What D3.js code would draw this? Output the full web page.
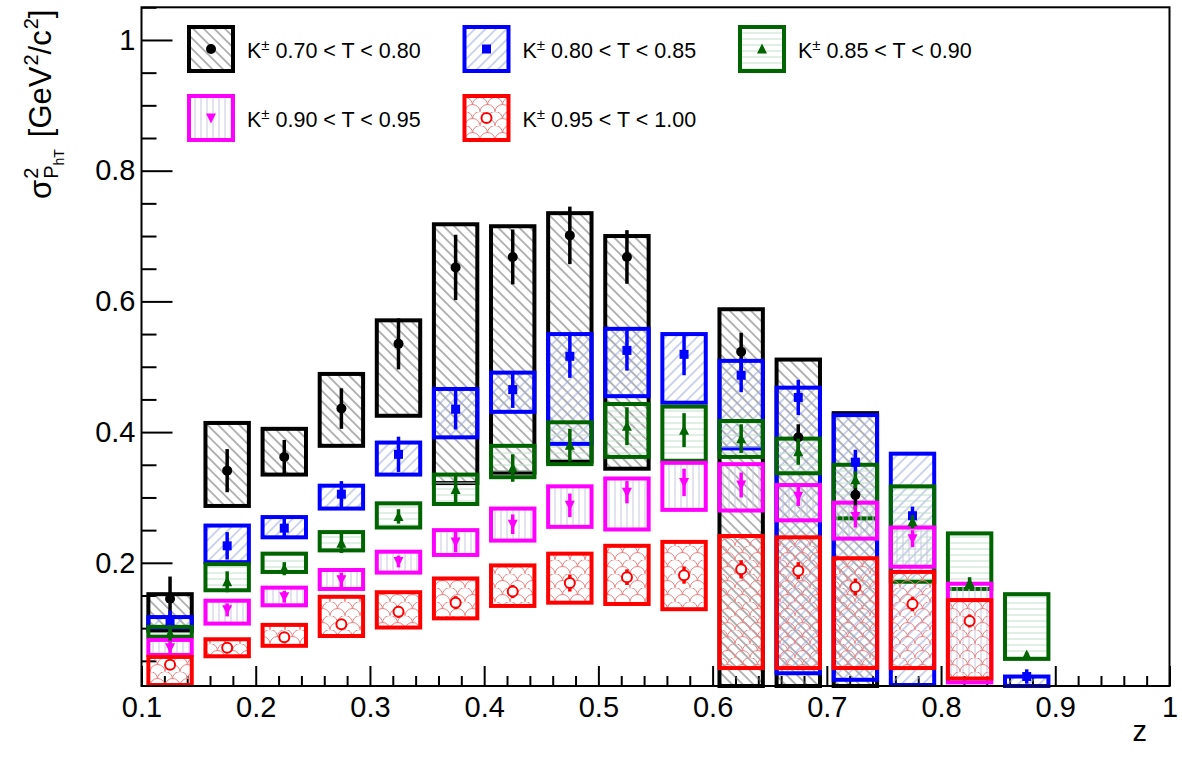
<!DOCTYPE html>
<html>
<head>
<meta charset="utf-8">
<script src="https://cdn.jsdelivr.net/npm/d3@7"></script>
<style>
body { margin: 0; background: #fff; }
svg { display: block; font-family: "Liberation Sans", Arial, Helvetica, sans-serif; }
</style>
</head>
<body>
<svg id="chart" width="1182" height="763"></svg>
<script>
// z bin centres
var zBins = [0.125, 0.175, 0.225, 0.275, 0.325, 0.375, 0.425, 0.475, 0.525, 0.575, 0.625, 0.675, 0.725, 0.775, 0.825, 0.875];

// K+- 0.70 < T < 0.80
var valT70  = [0.145, 0.341, 0.362, 0.436, 0.535, 0.652, 0.668, 0.701, 0.668, null, 0.523, 0.392, 0.304, null, null, null];
var statT70 = [0.034, 0.033, 0.026, 0.031, 0.039, 0.050, 0.042, 0.044, 0.041, null, 0.029, 0.020, 0.021, null, null, null];
var loT70   = [0.096, 0.287, 0.335, 0.379, 0.425, 0.322, 0.338, 0.355, 0.344, null, 0.0, 0.0, 0.0, null, null, null];
var hiT70   = [0.152, 0.414, 0.405, 0.489, 0.571, 0.718, 0.715, 0.735, 0.700, null, 0.588, 0.511, 0.429, null, null, null];

// K+- 0.80 < T < 0.85
var valT80  = [0.111, 0.226, 0.253, 0.305, 0.366, 0.435, 0.465, 0.516, 0.525, 0.519, 0.487, 0.453, 0.354, 0.272, null, 0.026];
var statT80 = [0.016, 0.021, 0.016, 0.020, 0.027, 0.031, 0.028, 0.033, 0.031, 0.032, 0.026, 0.027, 0.019, 0.014, null, 0.011];
var loT80   = [0.101, 0.201, 0.239, 0.283, 0.335, 0.392, 0.431, 0.382, 0.455, 0.445, 0.375, 0.031, 0.021, 0.013, null, 0.008];
var hiT80   = [0.117, 0.257, 0.270, 0.318, 0.384, 0.466, 0.491, 0.550, 0.558, 0.550, 0.509, 0.468, 0.426, 0.367, null, 0.026];

// K+- 0.85 < T < 0.90
var valT85  = [0.092, 0.171, 0.191, 0.230, 0.271, 0.312, 0.345, 0.380, 0.409, 0.403, 0.390, 0.370, 0.327, 0.263, 0.169, 0.059];
var statT85 = [0.013, 0.016, 0.010, 0.015, 0.011, 0.024, 0.021, 0.025, 0.029, 0.026, 0.022, 0.020, 0.013, 0.010, 0.009, 0.004];
var loT85   = [0.087, 0.158, 0.186, 0.219, 0.254, 0.290, 0.331, 0.351, 0.362, 0.356, 0.362, 0.337, 0.268, 0.171, 0.160, 0.053];
var hiT85   = [0.102, 0.198, 0.214, 0.247, 0.291, 0.335, 0.379, 0.415, 0.443, 0.439, 0.417, 0.390, 0.350, 0.317, 0.245, 0.152];

// K+- 0.90 < T < 0.95
var valT90  = [0.070, 0.128, 0.148, 0.174, 0.202, 0.232, 0.259, 0.288, 0.308, 0.323, 0.319, 0.302, 0.271, 0.237, null, null];
var statT90 = [0.011, 0.010, 0.009, 0.011, 0.009, 0.016, 0.015, 0.018, 0.017, 0.021, 0.019, 0.015, 0.017, 0.013, null, null];
var loT90   = [0.059, 0.107, 0.135, 0.160, 0.185, 0.212, 0.234, 0.255, 0.251, 0.281, 0.280, 0.265, 0.237, 0.194, 0.017, null];
var hiT90   = [0.082, 0.142, 0.162, 0.189, 0.217, 0.250, 0.283, 0.317, 0.329, 0.353, 0.351, 0.319, 0.292, 0.254, 0.168, null];

// K+- 0.95 < T < 1.00
var valT95  = [0.044, 0.070, 0.086, 0.106, 0.125, 0.139, 0.156, 0.169, 0.178, 0.181, 0.190, 0.188, 0.163, 0.137, 0.111, null];
var statT95 = [0.008, 0.006, 0.008, 0.008, 0.009, 0.010, 0.010, 0.013, 0.012, 0.013, 0.014, 0.013, 0.013, 0.011, 0.010, null];
var loT95   = [0.013, 0.057, 0.073, 0.088, 0.101, 0.115, 0.134, 0.139, 0.137, 0.129, 0.039, 0.039, 0.039, 0.039, 0.023, null];
var hiT95   = [0.056, 0.083, 0.105, 0.148, 0.155, 0.176, 0.196, 0.214, 0.226, 0.232, 0.241, 0.239, 0.207, 0.186, 0.143, null];

var legendRanges = ['0.70 < T < 0.80', '0.80 < T < 0.85', '0.85 < T < 0.90', '0.90 < T < 0.95', '0.95 < T < 1.00'];
var xTicks = [0.1, 0.2, 0.3, 0.4, 0.5, 0.6, 0.7, 0.8, 0.9, 1];
var yTicks = [0.2, 0.4, 0.6, 0.8, 1];
var boxHalfWidth = 0.019;

var series = [
	{ label: legendRanges[0], val: valT70, stat: statT70, lo: loT70, hi: hiT70, color: '#000000', hatch: 'hatch-black', marker: 'circle' },
	{ label: legendRanges[1], val: valT80, stat: statT80, lo: loT80, hi: hiT80, color: '#0000ff', hatch: 'hatch-blue', marker: 'square' },
	{ label: legendRanges[2], val: valT85, stat: statT85, lo: loT85, hi: hiT85, color: '#006400', hatch: 'hatch-green', marker: 'triUp' },
	{ label: legendRanges[3], val: valT90, stat: statT90, lo: loT90, hi: hiT90, color: '#ff00ff', hatch: 'hatch-magenta', marker: 'triDown' },
	{ label: legendRanges[4], val: valT95, stat: statT95, lo: loT95, hi: hiT95, color: '#ff0000', hatch: 'hatch-red', marker: 'openCircle' }
];

var frame = { left: 141.5, right: 1169.5, top: 7.3, bottom: 686 };
var svg = d3.select('#chart');
var x = d3.scaleLinear().domain([0.1, 1]).range([frame.left, frame.right]);
var y = d3.scaleLinear().domain([0.0115, 1.05]).range([frame.bottom, frame.top]);
var fmt = function(d) { return d === 1 ? '1' : d.toFixed(1); };

// fill patterns (userSpace so overlapping boxes cross-hatch)
var defs = svg.append('defs');
function addLinePattern(id, color, spacing, angle) {
	var p = defs.append('pattern')
		.attr('id', id)
		.attr('patternUnits', 'userSpaceOnUse')
		.attr('width', spacing)
		.attr('height', spacing)
		.attr('patternTransform', 'rotate(' + angle + ')');
	p.append('line')
		.attr('x1', spacing / 2).attr('y1', -1)
		.attr('x2', spacing / 2).attr('y2', spacing + 1)
		.attr('stroke', color)
		.attr('stroke-width', 1);
}
addLinePattern('hatch-black', '#6a6a6a', 7.5, -45);
addLinePattern('hatch-blue', '#9aa8e0', 7.5, 45);
addLinePattern('hatch-green', '#c0e0c8', 6, 90);
addLinePattern('hatch-magenta', '#c8c8e0', 6, 0);

var scales = defs.append('pattern')
	.attr('id', 'hatch-red')
	.attr('patternUnits', 'userSpaceOnUse')
	.attr('width', 15)
	.attr('height', 14);
scales.append('path')
	.attr('d', 'M0,14 A7.5,7.5 0 0,1 15,14 M-7.5,7 A7.5,7.5 0 0,1 7.5,7 M7.5,7 A7.5,7.5 0 0,1 22.5,7')
	.attr('fill', 'none')
	.attr('stroke', '#ec8080')
	.attr('stroke-width', 1);

// axes
var yMinor = d3.range(1, 22).filter(function(i) { return i % 4 !== 0; }).map(function(i) { return +(i * 0.05).toFixed(2); });
var xMinor = d3.range(5, 51).filter(function(i) { return i % 5 !== 0; }).map(function(i) { return +(i * 0.02).toFixed(2); });

function styleAxis(g) {
	g.select('.domain').remove();
	g.selectAll('.tick line').attr('stroke', '#000').attr('stroke-width', 2);
	g.selectAll('.tick text').attr('font-size', 29).attr('fill', '#000');
	g.attr('font-family', null).attr('font-size', null);
}

svg.append('g')
	.attr('transform', 'translate(' + frame.left + ',0)')
	.call(d3.axisLeft(y).tickValues(yMinor).tickSizeInner(-15).tickSizeOuter(0).tickFormat(''))
	.call(styleAxis);
svg.append('g')
	.attr('transform', 'translate(' + frame.left + ',0)')
	.call(d3.axisLeft(y).tickValues(yTicks).tickSizeInner(-31).tickSizeOuter(0).tickPadding(6).tickFormat(fmt))
	.call(styleAxis);
svg.append('g')
	.attr('transform', 'translate(0,' + frame.bottom + ')')
	.call(d3.axisBottom(x).tickValues(xMinor).tickSizeInner(-10).tickSizeOuter(0).tickFormat(''))
	.call(styleAxis);
svg.append('g')
	.attr('transform', 'translate(0,' + frame.bottom + ')')
	.call(d3.axisBottom(x).tickValues(xTicks).tickSizeInner(-20).tickSizeOuter(0).tickPadding(10).tickFormat(fmt))
	.call(styleAxis);

// systematic boxes, all series first
var boxLayer = svg.append('g');
series.forEach(function(s) {
	var rows = zBins.map(function(z, i) { return { z: z, lo: s.lo[i], hi: s.hi[i] }; })
		.filter(function(d) { return d.hi !== null; });
	boxLayer.selectAll(null)
		.data(rows)
		.enter()
		.append('rect')
		.attr('x', function(d) { return x(d.z - boxHalfWidth); })
		.attr('width', function(d) { return x(d.z + boxHalfWidth) - x(d.z - boxHalfWidth); })
		.attr('y', function(d) { return y(d.hi); })
		.attr('height', function(d) { return y(Math.max(d.lo, y.domain()[0])) - y(d.hi); })
		.attr('fill', 'url(#' + s.hatch + ')')
		.attr('stroke', s.color)
		.attr('stroke-width', 4);
});

// markers
function drawMarker(g, type, color) {
	if (type === 'circle')
		g.append('circle').attr('r', 5).attr('fill', color);
	else if (type === 'square')
		g.append('rect').attr('x', -4.5).attr('y', -4.5).attr('width', 9).attr('height', 9).attr('fill', color);
	else if (type === 'triUp')
		g.append('path').attr('d', 'M-5,4.5 L5,4.5 L0,-5.5 Z').attr('fill', color);
	else if (type === 'triDown')
		g.append('path').attr('d', 'M-5,-4.5 L5,-4.5 L0,5.5 Z').attr('fill', color);
	else if (type === 'openCircle')
		g.append('circle').attr('r', 5).attr('fill', '#fff').attr('stroke', color).attr('stroke-width', 2);
}

var pointLayer = svg.append('g');
series.forEach(function(s) {
	var rows = zBins.map(function(z, i) { return { z: z, v: s.val[i], e: s.stat[i] }; })
		.filter(function(d) { return d.v !== null; });
	var pts = pointLayer.selectAll(null)
		.data(rows)
		.enter()
		.append('g');
	pts.append('line')
		.attr('x1', function(d) { return x(d.z); })
		.attr('x2', function(d) { return x(d.z); })
		.attr('y1', function(d) { return y(Math.max(d.v - d.e, y.domain()[0])); })
		.attr('y2', function(d) { return y(d.v + d.e); })
		.attr('stroke', s.color)
		.attr('stroke-width', 3.5);
	pts.each(function(d) {
		var m = d3.select(this).append('g').attr('transform', 'translate(' + x(d.z) + ',' + y(d.v) + ')');
		drawMarker(m, s.marker, s.color);
	});
});

// frame
svg.append('rect')
	.attr('x', frame.left).attr('y', frame.top)
	.attr('width', frame.right - frame.left).attr('height', frame.bottom - frame.top)
	.attr('fill', 'none').attr('stroke', '#000').attr('stroke-width', 2);

// legend
series.forEach(function(s, i) {
	var bx = 187 + (i % 3) * 275.5;
	var by = 25 + Math.floor(i / 3) * 69;
	var g = svg.append('g');
	g.append('rect')
		.attr('x', bx + 2).attr('y', by + 2).attr('width', 44).attr('height', 44)
		.attr('fill', 'url(#' + s.hatch + ')')
		.attr('stroke', s.color).attr('stroke-width', 4);
	drawMarker(g.append('g').attr('transform', 'translate(' + (bx + 24) + ',' + (by + 24) + ')'), s.marker, s.color);
	var t = g.append('text')
		.attr('x', bx + 60).attr('y', by + 33)
		.attr('font-size', 21.5).attr('fill', '#000');
	t.append('tspan').text('K');
	t.append('tspan').attr('font-size', 15).attr('dy', -8).text('\u00b1');
	t.append('tspan').attr('dy', 8).text(' ' + s.label);
});

// axis titles
svg.append('text')
	.attr('x', 1147).attr('y', 741)
	.attr('text-anchor', 'end')
	.attr('font-size', 29)
	.text('z');

var yt = svg.append('g').attr('transform', 'translate(51,199) rotate(-90)');
var cursor = 0;
function piece(txt, size, dx, dy) {
	var el = yt.append('text').attr('x', cursor + dx).attr('y', dy).attr('font-size', size).text(txt);
	return el.node().getComputedTextLength();
}
var wSig = piece('\u03c3', 31, 0, 0);
cursor = wSig + 1;
piece('2', 20, 0, -13);
var wP = piece('P', 20, 0, 7);
cursor += wP;
var wHT = piece('hT', 14, 0, 13);
cursor += wHT + 12;
cursor += piece('[GeV', 31, 0, 0);
cursor += piece('2', 20, 1, -13) + 1;
cursor += piece('/c', 31, 0, 0);
cursor += piece('2', 20, 1, -13) + 1;
piece(']', 31, 0, 0);
</script>
</body>
</html>
